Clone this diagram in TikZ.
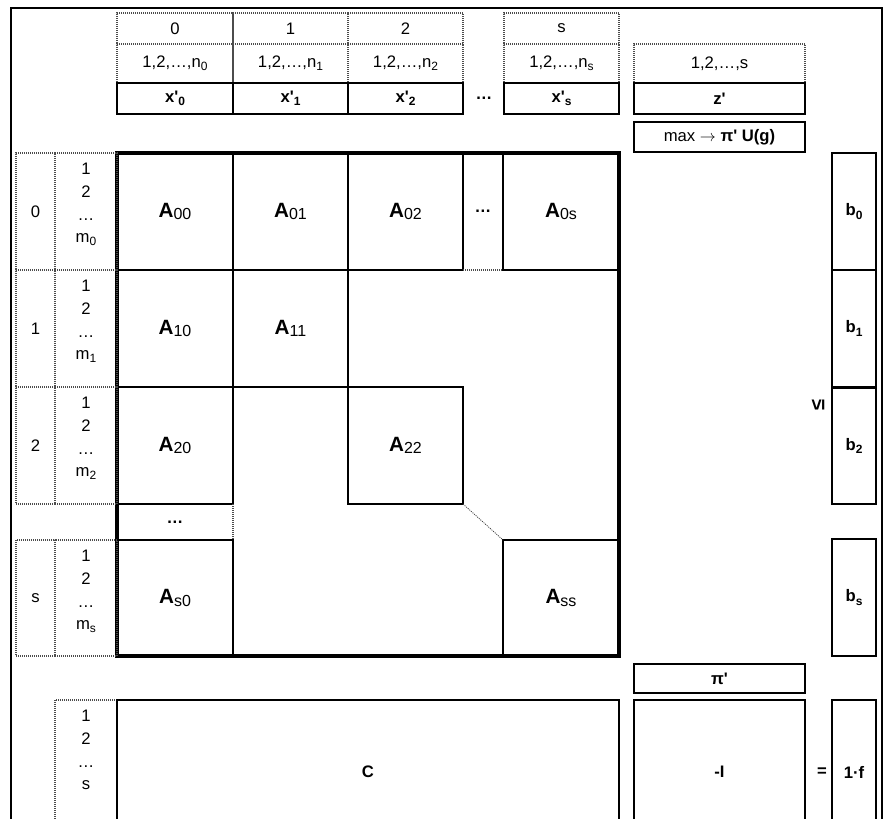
\documentclass[tikz,border=0pt]{standalone}
\usepackage{fontspec}
\newfontfamily\arial{Liberation Sans}
\newcommand\sbx[1]{\raisebox{-2.4pt}{\fontsize{9}{10}\selectfont #1}}
\newcommand\Am[1]{{\fontsize{15.5}{17}\selectfont\bfseries A}\raisebox{-1.8pt}{\fontsize{12}{13}\selectfont #1}}
% \bx{style}{name}{x1}{y1}{x2}{y2}{text}
\newcommand\bx[7]{%
  \pgfmathsetmacro\bxw{(#5-#3)*0.75}%
  \pgfmathsetmacro\bxh{(#6-#4)*0.75}%
  \node[#1, minimum width=\bxw pt, minimum height=\bxh pt, inner sep=0pt, outer sep=0pt] (#2) at ({(#3+#5)/2},{(#4+#6)/2}) {#7};}
\tikzset{
  every node/.style={font=\arial\fontsize{12.5}{14}\selectfont},
  box/.style={draw, line width=1.3pt},
  cell/.style={draw, line width=1.3pt},
  nobox/.style={},
  dbox/.style={draw=black!70, line width=1.3pt, dash pattern=on 0.75pt off 0.75pt},
  dline/.style={draw=black!70, line width=1.3pt, dash pattern=on 0.75pt off 0.75pt},
  sline/.style={draw, line width=1.3pt},
  thick border/.style={draw, line width=2.3pt},
  lbl/.style={align=center, font=\arial\fontsize{12.5}{17}\selectfont, inner sep=0pt, anchor=north},
  bf/.style={font=\arial\fontsize{12.5}{14}\selectfont\bfseries},
}
\begin{document}
\begin{tikzpicture}[x=0.75pt,y=-0.75pt]
\clip (0,0) rectangle (885,818);
% outer frame
\draw[line width=1.5pt] (11,860) -- (11,8) -- (882,8) -- (882,860);
% header row 1
\bx{dbox}{H0}{117}{13}{233}{44}{0}
\bx{dbox}{H1}{233}{13}{348}{44}{1}
\bx{dbox}{H2}{348}{13}{463}{44}{2}
\bx{dbox}{Hs}{504}{13}{619}{44}{s}
% header row 2
\bx{dbox}{N0}{117}{44}{233}{83}{1,2,\ldots,n\sbx{0}}
\bx{dbox}{N1}{233}{44}{348}{83}{1,2,\ldots,n\sbx{1}}
\bx{dbox}{N2}{348}{44}{463}{83}{1,2,\ldots,n\sbx{2}}
\bx{dbox}{Ns}{504}{44}{619}{83}{1,2,\ldots,n\sbx{s}}
\bx{dbox}{Nz}{634}{44}{805}{83}{1,2,\ldots,s}
% header row 3
\bx{box,bf}{X0}{117}{83}{233}{114}{x'\sbx{0}}
\bx{box,bf}{X1}{233}{83}{348}{114}{x'\sbx{1}}
\bx{box,bf}{X2}{348}{83}{463}{114}{x'\sbx{2}}
\bx{box,bf}{Xs}{504}{83}{619}{114}{x'\sbx{s}}
\node[bf] (Xd) at (484,98) {\ldots};
\bx{box,bf}{Z}{634}{83}{805}{114}{z'}
\bx{box}{MX}{634}{122}{805}{152}{max $\rightarrow$ {\bfseries π' U(g)}}
% matrix cells
\bx{cell}{A00}{117}{153}{233}{270}{\Am{00}}
\bx{cell}{A01}{233}{153}{348}{270}{\Am{01}}
\bx{cell}{A02}{348}{153}{463}{270}{\Am{02}}
\bx{nobox,bf}{D0}{463}{153}{503}{270}{\ldots}
\draw[sline] (D0.south west) -- (D0.north west) -- (D0.north east) -- (D0.south east);
\draw[dline] (D0.south west) -- (D0.south east);
\bx{cell}{A0s}{503}{153}{619}{270}{\Am{0s}}
\bx{cell}{A10}{117}{270}{233}{387}{\Am{10}}
\bx{cell}{A11}{233}{270}{348}{387}{\Am{11}}
\bx{cell}{A20}{117}{387}{233}{504}{\Am{20}}
\bx{cell}{A22}{348}{387}{463}{504}{\Am{22}}
\bx{nobox,bf}{Dr}{117}{504}{233}{540}{\ldots}
\draw[sline] (Dr.north east) -- (Dr.north west) -- (Dr.south west) -- (Dr.south east);
\draw[dline] (Dr.north east) -- (Dr.south east);
\bx{cell}{As0}{117}{540}{233}{656}{\Am{s0}}
\bx{cell}{Ass}{503}{540}{619}{656}{\Am{ss}}
\draw[black!75, line width=0.6pt, dash pattern=on 0.8pt off 0.8pt] (A22.south east) -- (Ass.north west);
\bx{thick border}{M}{117}{153}{619}{656}{}
% left labels
\bx{dbox}{G0}{16}{153}{55}{270}{0}
\bx{dbox}{L0}{55}{153}{117}{270}{}
\node[lbl] (L0t) at (86,163) {1\\2\\\ldots\\m\sbx{0}};
\bx{dbox}{G1}{16}{270}{55}{387}{1}
\bx{dbox}{L1}{55}{270}{117}{387}{}
\node[lbl] (L1t) at (86,280) {1\\2\\\ldots\\m\sbx{1}};
\bx{dbox}{G2}{16}{387}{55}{504}{2}
\bx{dbox}{L2}{55}{387}{117}{504}{}
\node[lbl] (L2t) at (86,397) {1\\2\\\ldots\\m\sbx{2}};
\bx{dbox}{Gs}{16}{540}{55}{656}{s}
\bx{dbox}{Ls}{55}{540}{117}{656}{}
\node[lbl] (Lst) at (86,550) {1\\2\\\ldots\\m\sbx{s}};
% right b column
\bx{box,bf}{B0}{832}{153}{876}{270}{b\sbx{0}}
\bx{box,bf}{B1}{832}{270}{876}{387}{b\sbx{1}}
\bx{box,bf}{B2}{832}{388}{876}{504}{b\sbx{2}}
\bx{box,bf}{Bs}{832}{539}{876}{656}{b\sbx{s}}
\node[font=\arial\fontsize{15}{16}\selectfont\bfseries, rotate=90, inner sep=0pt] (LE) at (818,405) {≤};
% bottom
\bx{box,bf}{PI}{634}{664}{805}{693}{π'}
\bx{dbox}{LC}{55}{700}{117}{844}{}
\node[lbl] (LCt) at (86,710) {1\\2\\\ldots\\s};
\bx{box,bf}{C}{117}{700}{619}{844}{C}
\bx{box,bf}{I}{634}{700}{805}{844}{-I}
\node[bf] (EQ) at (822,772) {=};
\bx{box,bf}{F}{832}{700}{876}{844}{1·f}
\end{tikzpicture}
\end{document}
